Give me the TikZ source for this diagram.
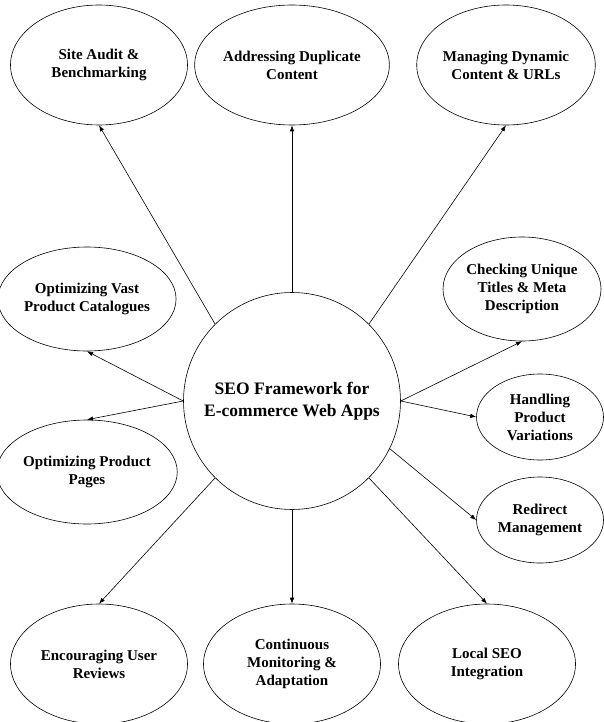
\documentclass[tikz,border=0pt]{standalone}
\usepackage{fontspec}
\setmainfont{Liberation Serif}
\usetikzlibrary{shapes.geometric,positioning,arrows.meta}

\begin{document}
\begin{tikzpicture}[on grid, >={Latex[length=6pt,width=4.5pt]}, line width=0.6pt,
    idea/.style={ellipse, draw, align=center, inner sep=0pt,
        font=\bfseries\fontsize{15}{18}\selectfont},
    big/.style={idea, minimum width=177pt, minimum height=120pt},
    mid/.style={idea, minimum width=158pt, minimum height=104pt},
    small/.style={idea, minimum width=127pt, minimum height=86pt},
    hub/.style={circle, draw, align=center, inner sep=0pt, minimum size=217pt,
        font=\bfseries\fontsize{17.5}{21.5}\selectfont}]
        \useasboundingbox (0,0) rectangle (603pt,-722pt);
        % Define states
        \node[hub] (Hub) at (292pt,-401pt) {SEO Framework for\\E-commerce Web Apps};
        \node[big] (Audit) [above left=336pt and 193pt of Hub] {Site Audit \&\\Benchmarking};
        \node[big] (Dup) [above=336pt of Hub] {Addressing Duplicate\\Content};
        \node[big] (Dynamic) [above right=336pt and 214pt of Hub] {Managing Dynamic\\Content \& URLs};
        \node[mid] (Catalog) [above left=102pt and 205pt of Hub] {Optimizing Vast\\Product Catalogues};
        \node[mid] (Pages) [below left=71pt and 205pt of Hub] {Optimizing Product\\Pages};
        \node[mid] (Titles) [above right=112pt and 230pt of Hub] {Checking Unique\\Titles \& Meta\\Description};
        \node[small] (Variants) [below right=16pt and 248pt of Hub] {Handling\\Product\\Variations};
        \node[small] (Redirect) [below right=119pt and 248pt of Hub] {Redirect\\Management};
        \node[big] (Reviews) [below left=263pt and 193pt of Hub] {Encouraging User\\Reviews};
        \node[big] (Monitor) [below=263pt of Hub] {Continuous\\Monitoring \&\\Adaptation};
        \node[big] (LocalSEO) [below right=263pt and 195pt of Hub] {Local SEO\\Integration};

        % Define transitions
        \path[->]
        (Hub.north west) edge (Audit.south)
        (Hub.north) edge (Dup.south)
        (Hub.north east) edge (Dynamic.south)
        (Hub.west) edge (Catalog.south)
        (Hub.west) edge (Pages.north)
        (Hub.east) edge (Titles.south)
        (Hub.east) edge (Variants.west)
        (Hub.-26.5) edge (Redirect.west)
        (Hub.south west) edge (Reviews.north)
        (Hub.south) edge (Monitor.north)
        (Hub.south east) edge (LocalSEO.north);

    \end{tikzpicture}
\end{document}
